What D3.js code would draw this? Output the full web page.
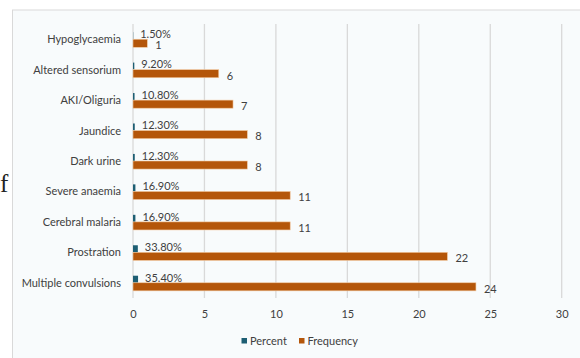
<!DOCTYPE html>
<html><head><meta charset="utf-8">
<script src="https://cdn.jsdelivr.net/npm/d3@7"></script>
<style>html,body{margin:0;padding:0;background:#fff;}svg{display:block;}</style>
</head><body>
<svg id="c" width="580" height="358"></svg>
<script>
const categories = ["Multiple convulsions","Prostration","Cerebral malaria","Severe anaemia","Dark urine","Jaundice","AKI/Oliguria","Altered sensorium","Hypoglycaemia"];
const frequency = [24,22,11,11,8,8,7,6,1];
const percent = [35.4,33.8,16.9,16.9,12.3,12.3,10.8,9.2,1.5];
const percentLabels = ["35.40%","33.80%","16.90%","16.90%","12.30%","12.30%","10.80%","9.20%","1.50%"];
const xTicks = [0,5,10,15,20,25,30];
const seriesNames = ["Percent","Frequency"];
const colors = {Percent:"#1D5E73", Frequency:"#B4560A"};

const svg = d3.select("#c");
const font = "Lato, 'Open Sans', sans-serif";
const fs = 11;
const textColor = "#404040";

// chart area
svg.append("rect").attr("x",12.5).attr("y",10).attr("width",580).attr("height",360)
  .attr("fill","#F8FBFC").attr("stroke","#D9D9D9").attr("stroke-width",1);
// stray text from surrounding page
svg.append("text").attr("x",0).attr("y",192).attr("font-family","'Liberation Serif', serif")
  .attr("font-size",25).attr("fill","#222").text("f");

const x = d3.scaleLinear().domain([0,30]).range([133,561.7]);
const y = d3.scaleBand().domain(categories.slice().reverse()).range([24,298]).paddingInner(0.47).paddingOuter(0.235);
const ySub = d3.scaleBand().domain(seriesNames).range([0,y.bandwidth()]);

// gridlines
svg.append("g").selectAll("line").data(xTicks).join("line")
  .attr("x1",d=>x(d)).attr("x2",d=>x(d)).attr("y1",24).attr("y2",298)
  .attr("stroke","#D9D9D9").attr("stroke-width",1.3);

// x axis labels
const xAxis = d3.axisBottom(x).tickValues(xTicks).tickSize(0).tickPadding(0);
const gx = svg.append("g").attr("transform","translate(0,313)").call(xAxis);
gx.select(".domain").remove();
gx.selectAll("text").attr("font-family",font).attr("font-size",fs).attr("fill",textColor).attr("dy","0.71em").attr("y",-3);

// y axis labels
const yAxis = d3.axisLeft(y).tickSize(0).tickPadding(12);
const gy = svg.append("g").attr("transform",`translate(${x(0)},0)`).call(yAxis);
gy.select(".domain").remove();
gy.selectAll("text").attr("font-family",font).attr("font-size",fs).attr("fill",textColor)
  .attr("transform",`translate(0,0.5)`);

const rows = categories.map((c,i)=>({c, f:frequency[i], p:percent[i]/100, pl:percentLabels[i]}));
const g = svg.append("g");
// percent bars
g.selectAll("rect.p").data(rows).join("rect").attr("class","p")
  .attr("x",x(0)).attr("y",d=>y(d.c)+ySub("Percent")+1).attr("width",d=>x(d.p)-x(0)).attr("height",ySub.bandwidth()-1)
  .attr("fill",colors.Percent);
// frequency bars
g.selectAll("rect.f").data(rows).join("rect").attr("class","f")
  .attr("x",x(0)).attr("y",d=>y(d.c)+ySub("Frequency")).attr("width",d=>x(d.f)-x(0)).attr("height",ySub.bandwidth())
  .attr("fill",colors.Frequency).attr("stroke","#F2C9A0").attr("stroke-width",0.6);
// labels
g.selectAll("text.pl").data(rows).join("text").attr("class","pl")
  .attr("x",d=>x(d.p)+7).attr("y",d=>y(d.c)+ySub("Percent")+ySub.bandwidth()/2-1)
  .attr("dy","0.35em").attr("font-family",font).attr("font-size",fs).attr("fill",textColor).text(d=>d.pl);
g.selectAll("text.fl").data(rows).join("text").attr("class","fl")
  .attr("x",d=>x(d.f)+8).attr("y",d=>y(d.c)+ySub("Frequency")+ySub.bandwidth()/2+2)
  .attr("dy","0.35em").attr("font-family",font).attr("font-size",fs).attr("fill",textColor).text(d=>d.f);

// legend
const legX = {Percent:241.5, Frequency:299};
const leg = svg.append("g").selectAll("g").data(seriesNames).join("g")
  .attr("transform",d=>`translate(${legX[d]},338)`);
leg.append("rect").attr("width",5.5).attr("height",5.5).attr("fill",d=>colors[d]);
leg.append("text").attr("x",8.5).attr("y",3).attr("dy","0.35em").attr("font-family",font)
  .attr("font-size",fs).attr("fill",textColor).text(d=>d);
</script>
</body></html>
